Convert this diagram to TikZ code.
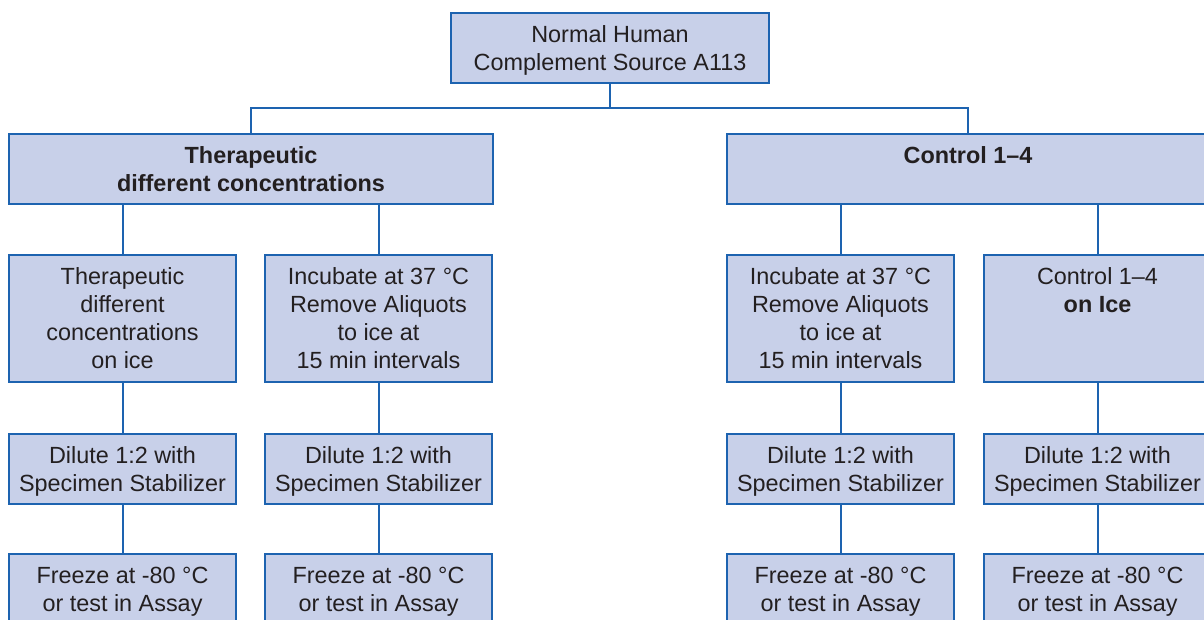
\documentclass[tikz,border=0pt]{standalone}
\usepackage{fontspec}
\setmainfont{Liberation Sans}
\definecolor{boxfill}{HTML}{C8D0E9}
\definecolor{boxline}{HTML}{1D63B0}
\definecolor{ink}{HTML}{231F20}
\begin{document}
\begin{tikzpicture}[x=1pt,y=-1pt,
  box/.style={draw=boxline, fill=boxfill, line width=2pt, rectangle, inner sep=0pt},
  lbl/.style={anchor=north, align=center, inner sep=0pt, text=ink,
    font=\fontsize{23.4}{28}\selectfont},
  link/.style={draw=boxline, line width=2pt}]
\useasboundingbox (0,0) rectangle (1204,619);
\clip (0,0) rectangle (1204,619);

% source
\node[box, minimum width=318, minimum height=70] (src) at (610,48) {};
\node[lbl] (srcT) at ([yshift=-13.8]src.north) {Normal Human\\Complement Source A113};

% two main groups
\node[box, minimum width=484, minimum height=70] (ther) at (251,169) {};
\node[lbl] (therT) at ([yshift=-13.8]ther.north) {\bfseries Therapeutic\\\bfseries different concentrations};
\node[box, minimum width=482, minimum height=70] (ctrl) at (968,169) {};
\node[lbl] (ctrlT) at ([yshift=-13.8]ctrl.north) {\bfseries Control 1--4};

% second row
\node[box, minimum width=227, minimum height=127] (a1) at (122.5,318.5) {};
\node[lbl] (a1T) at ([yshift=-13.8]a1.north) {Therapeutic\\different\\concentrations\\on ice};
\node[box, minimum width=227, minimum height=127] (a2) at (378.5,318.5) {};
\node[lbl] (a2T) at ([yshift=-13.8]a2.north) {Incubate at 37 °C\\Remove Aliquots\\to ice at\\15 min intervals};
\node[box, minimum width=227, minimum height=127] (a3) at (840.5,318.5) {};
\node[lbl] (a3T) at ([yshift=-13.8]a3.north) {Incubate at 37 °C\\Remove Aliquots\\to ice at\\15 min intervals};
\node[box, minimum width=227, minimum height=127] (a4) at (1097.5,318.5) {};
\node[lbl] (a4T) at ([yshift=-13.8]a4.north) {Control 1--4\\\bfseries on Ice};

% dilution row
\foreach \n/\x in {b1/122.5, b2/378.5, b3/840.5, b4/1097.5}{
  \node[box, minimum width=227, minimum height=70] (\n) at (\x,469) {};
  \node[lbl] (\n T) at ([yshift=-13.8]\n.north) {Dilute 1:2 with\\Specimen Stabilizer};
}

% storage row
\foreach \n/\x in {c1/122.5, c2/378.5, c3/840.5, c4/1097.5}{
  \node[box, minimum width=227, minimum height=70] (\n) at (\x,589) {};
  \node[lbl] (\n T) at ([yshift=-13.8]\n.north) {Freeze at -80 °C\\or test in Assay};
}

% connectors
\coordinate (j) at (610,108);
\draw[link] (src.south) -- (j);
\draw[link] (ther.north) |- (j) -| (ctrl.north);
\draw[link] (a1.north |- ther.south) -- (a1.north);
\draw[link] (a2.north |- ther.south) -- (a2.north);
\draw[link] (a3.north |- ctrl.south) -- (a3.north);
\draw[link] (a4.north |- ctrl.south) -- (a4.north);
\foreach \i in {1,2,3,4}{
  \draw[link] (a\i.south) -- (b\i.north);
  \draw[link] (b\i.south) -- (c\i.north);
}
\end{tikzpicture}
\end{document}
